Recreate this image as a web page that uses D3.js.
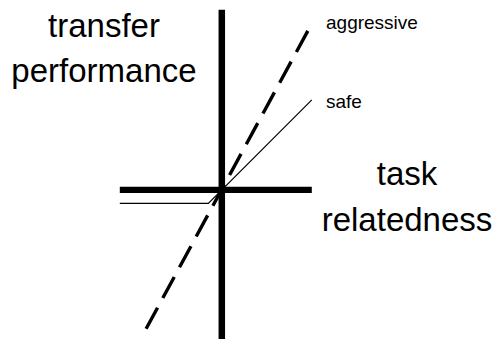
<!DOCTYPE html>
<html>
<head>
<meta charset="utf-8">
<script src="https://cdn.jsdelivr.net/npm/d3@7"></script>
<style>
  body { margin: 0; background: #fff; }
  text { font-family: "Liberation Sans", Arial, sans-serif; fill: #000; }
</style>
</head>
<body>
<svg id="chart"></svg>
<script>
var svg_w = 496;
var svg_h = 339;

// axis extents, in (relatedness, performance) units
var xAxisExtent = [-1.02, 0.9];
var yAxisExtent = [-1.5, 1.8];

// the two transfer curves
var safePoints = [[-1.02, -0.135], [-0.135, -0.135], [0.9, 0.9]];
var aggressivePoints = [[-0.757, -1.39], [0.866, 1.6]];

var axisLabels = {x: ["task", "relatedness"], y: ["transfer", "performance"]};
var curveLabels = ["aggressive", "safe"];

var svg = d3.select('#chart')
    .attr('width', svg_w)
    .attr('height', svg_h);

// origin sits at (221.8, 189.8), 100px per unit on both axes
var x = d3.scaleLinear().domain([-1, 1]).range([121.8, 321.8]);
var y = d3.scaleLinear().domain([-1, 1]).range([289.8, 89.8]);

var lineGen = d3.line()
    .x((d) => x(d[0]))
    .y((d) => y(d[1]));

// axes
svg.append('line')
    .attr('x1', x(0)).attr('x2', x(0))
    .attr('y1', y(yAxisExtent[0])).attr('y2', y(yAxisExtent[1]))
    .attr('stroke', '#000')
    .attr('stroke-width', 6.5);
svg.append('line')
    .attr('x1', x(xAxisExtent[0])).attr('x2', x(xAxisExtent[1]))
    .attr('y1', y(0)).attr('y2', y(0))
    .attr('stroke', '#000')
    .attr('stroke-width', 6.2);

// curves
svg.append('path')
    .attr('d', lineGen(safePoints))
    .attr('fill', 'none')
    .attr('stroke', '#000')
    .attr('stroke-width', 1.2);
svg.append('path')
    .attr('d', lineGen(aggressivePoints))
    .attr('fill', 'none')
    .attr('stroke', '#000')
    .attr('stroke-width', 3.4)
    .attr('stroke-dasharray', '24,11');

// axis labels
let yl = svg.append('text')
    .attr('text-anchor', 'middle')
    .attr('font-size', 33);
axisLabels.y.forEach((t, i) => {
    yl.append('tspan').attr('x', 104).attr('y', 37 + i * 45).text(t);
});
let xl = svg.append('text')
    .attr('text-anchor', 'middle')
    .attr('font-size', 33);
axisLabels.x.forEach((t, i) => {
    xl.append('tspan').attr('x', 407).attr('y', 185 + i * 46).text(t);
});

// curve labels
svg.append('text')
    .attr('x', 326).attr('y', 29)
    .attr('font-size', 19)
    .text(curveLabels[0]);
svg.append('text')
    .attr('x', 326).attr('y', 108)
    .attr('font-size', 19)
    .text(curveLabels[1]);
</script>
</body>
</html>
